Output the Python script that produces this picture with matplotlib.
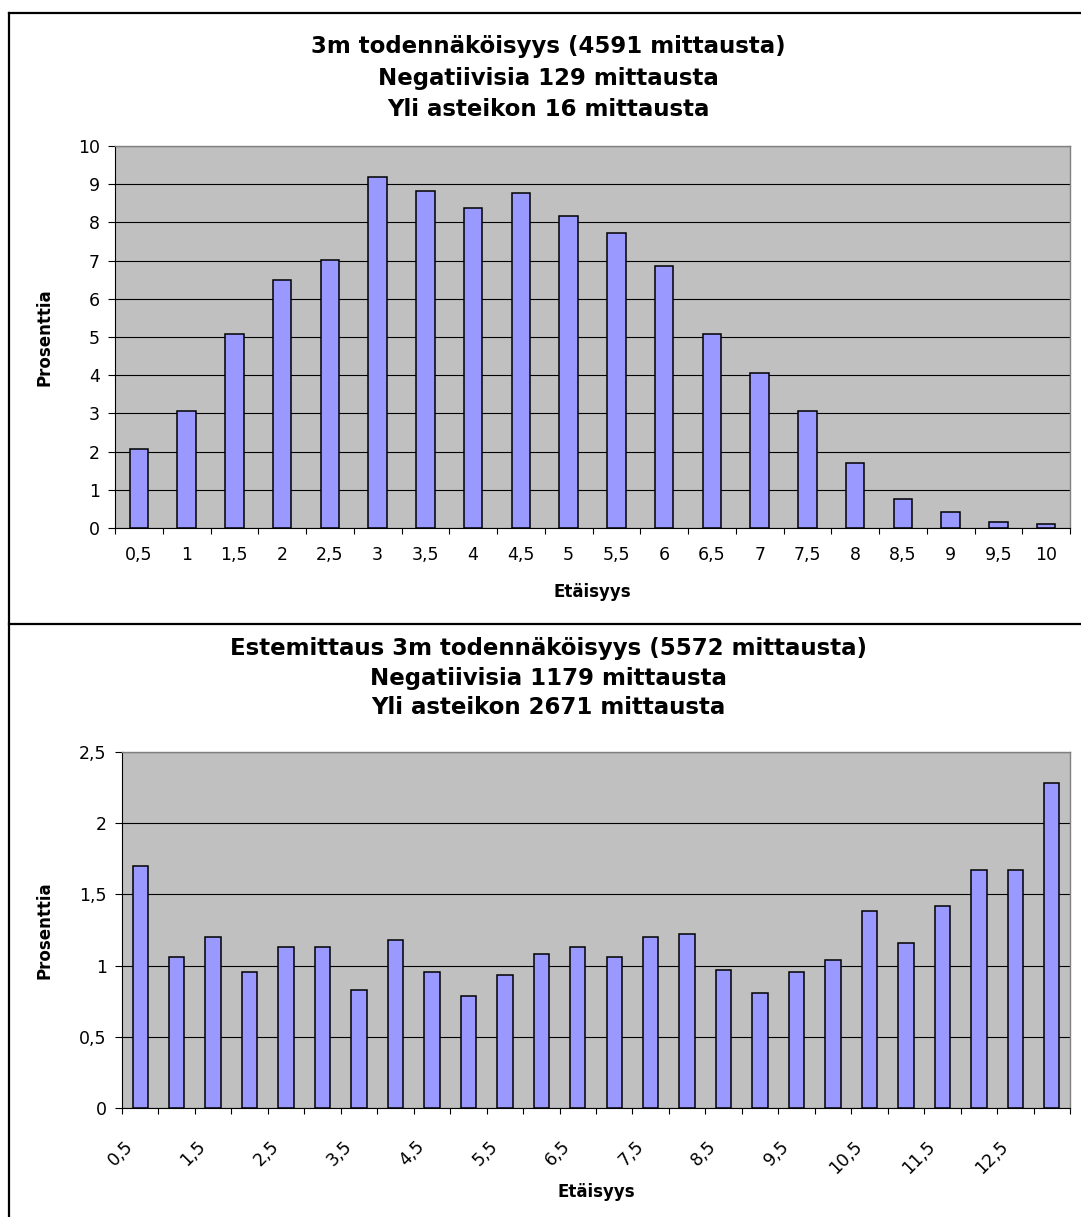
import numpy as np
import matplotlib
matplotlib.use("Agg")
import matplotlib.pyplot as plt
from matplotlib.lines import Line2D
from matplotlib.ticker import FuncFormatter

# ylempi kaavio: 3m todennäköisyys
top_dist = ["0,5", "1", "1,5", "2", "2,5", "3", "3,5", "4", "4,5", "5",
            "5,5", "6", "6,5", "7", "7,5", "8", "8,5", "9", "9,5", "10"]
top_pct = [2.08, 3.06, 5.08, 6.50, 7.01, 9.19, 8.81, 8.38, 8.77, 8.18,
           7.73, 6.86, 5.08, 4.07, 3.06, 1.71, 0.77, 0.42, 0.16, 0.10]

# alempi kaavio: estemittaus
bot_dist = ["0,5", "1", "1,5", "2", "2,5", "3", "3,5", "4", "4,5", "5",
            "5,5", "6", "6,5", "7", "7,5", "8", "8,5", "9", "9,5", "10",
            "10,5", "11", "11,5", "12", "12,5", "13"]
bot_pct = [1.70, 1.06, 1.20, 0.955, 1.13, 1.13, 0.83, 1.18, 0.955, 0.79,
           0.935, 1.08, 1.13, 1.06, 1.20, 1.22, 0.97, 0.81, 0.955, 1.04,
           1.38, 1.16, 1.42, 1.67, 1.67, 2.28]

top_title = ["3m todennäköisyys (4591 mittausta)",
             "Negatiivisia 129 mittausta",
             "Yli asteikon 16 mittausta"]
bot_title = ["Estemittaus 3m todennäköisyys (5572 mittausta)",
             "Negatiivisia 1179 mittausta",
             "Yli asteikon 2671 mittausta"]

W, H = 1081, 1217
fig = plt.figure(figsize=(W / 100, H / 100), dpi=100)
plt.rcParams['font.family'] = ['DejaVu Sans']

BAR = "#9999FF"
BG = "#C0C0C0"
TICK_FS = 12.5
LAB_FS = 12


def fx(px):
    return px / W


def fy(py):
    return 1 - py / H


def style_axes(ax, ymax, ystep):
    ax.set_facecolor(BG)
    ax.set_ylim(0, ymax)
    ax.set_yticks(np.arange(0, ymax + ystep / 2, ystep))
    ax.yaxis.set_major_formatter(FuncFormatter(lambda v, p: ("%g" % v).replace(".", ",")))
    ax.grid(axis="y", color="black", linewidth=0.8)
    ax.set_axisbelow(True)
    for s in ["top", "right"]:
        ax.spines[s].set_color("#808080")
        ax.spines[s].set_linewidth(1.0)
    for s in ["left", "bottom"]:
        ax.spines[s].set_color("black")
        ax.spines[s].set_linewidth(0.8)
    ax.tick_params(axis="y", length=5, width=0.8, pad=6, labelsize=TICK_FS)
    ax.set_ylabel("Prosenttia", fontsize=LAB_FS, fontweight="bold")


# --- ylempi ---
ax1 = fig.add_axes([fx(115), fy(528), fx(955), (528 - 146) / H])
x1 = np.arange(len(top_pct))
ax1.bar(x1, top_pct, width=0.39, color=BAR, edgecolor="black", linewidth=1.1, zorder=3)
ax1.set_xlim(-0.5, len(top_pct) - 0.5)
style_axes(ax1, 10, 1)
ax1.set_xticks(x1)
ax1.set_xticklabels(top_dist)
ax1.set_xticks(np.arange(-0.5, len(top_pct)), minor=True)
ax1.tick_params(axis="x", which="major", length=0, pad=13, labelsize=TICK_FS)
ax1.tick_params(axis="x", which="minor", length=4.5, width=0.8)
ax1.set_xlabel("Etäisyys", fontsize=LAB_FS, fontweight="bold")
ax1.xaxis.set_label_coords(0.5, -0.145)
ax1.yaxis.set_label_coords(-0.064, 0.5)

for i, t in enumerate(top_title):
    fig.text(fx(548), fy(47 + 31 * i), t, ha="center", va="center",
             fontsize=16.5, fontweight="bold")

# --- alempi ---
ax2 = fig.add_axes([fx(122), fy(1108), fx(948), (1108 - 752) / H])
x2 = np.arange(len(bot_pct))
ax2.bar(x2, bot_pct, width=0.42, color=BAR, edgecolor="black", linewidth=1.1, zorder=3)
ax2.set_xlim(-0.5, len(bot_pct) - 0.5)
style_axes(ax2, 2.5, 0.5)
ax2.set_xticks(x2[::2] - 0.45)
ax2.set_xticklabels(bot_dist[::2], rotation=45, ha="right", va="top",
                    rotation_mode="anchor")
ax2.set_xticks(np.arange(-0.5, len(bot_pct)), minor=True)
ax2.tick_params(axis="x", which="major", length=0, pad=21, labelsize=TICK_FS)
ax2.tick_params(axis="x", which="minor", length=4.5, width=0.8)
ax2.set_xlabel("Etäisyys", fontsize=LAB_FS, fontweight="bold")
ax2.xaxis.set_label_coords(0.5, -0.21)
ax2.yaxis.set_label_coords(-0.072, 0.5)

for i, t in enumerate(bot_title):
    fig.text(fx(548), fy(648 + 30 * i), t, ha="center", va="center",
             fontsize=16.5, fontweight="bold")

# kehykset
fig.add_artist(Line2D([fx(9), fx(9)], [fy(13), 0], color="black", linewidth=1.6))
fig.add_artist(Line2D([fx(9), 1], [fy(13), fy(13)], color="black", linewidth=1.6))
fig.add_artist(Line2D([fx(9), 1], [fy(624), fy(624)], color="black", linewidth=1.6))

fig.savefig("out.png", dpi=100)
